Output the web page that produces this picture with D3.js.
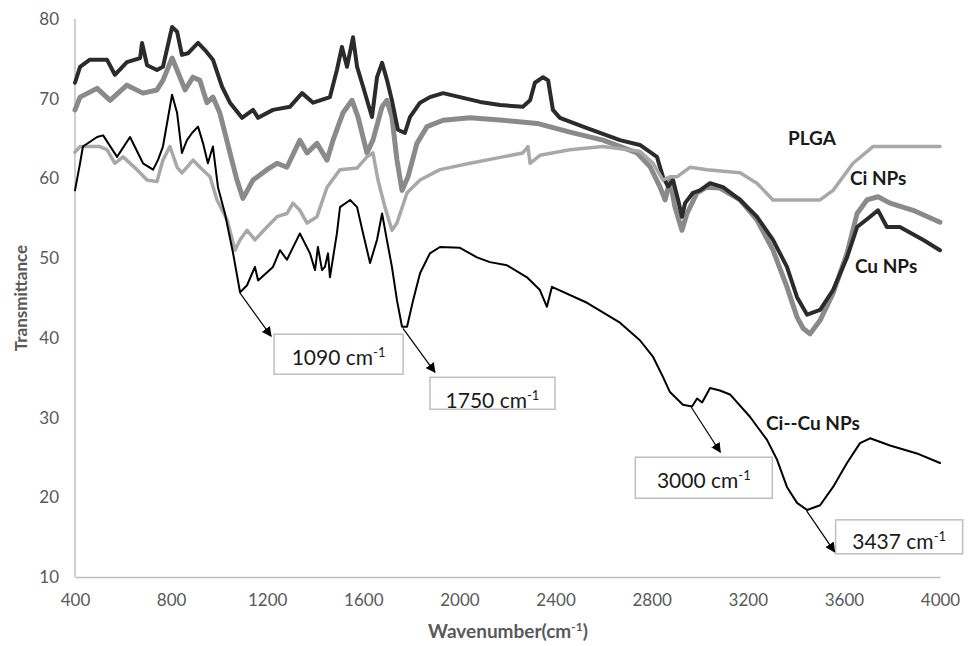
<!DOCTYPE html>
<html>
<head>
<meta charset="utf-8">
<script src="https://cdn.jsdelivr.net/npm/d3@7"></script>
<style>
  body { margin: 0; background: #fff; }
  svg { display: block; }
</style>
</head>
<body>
<svg id="chart" width="971" height="646"></svg>
<script>
// FTIR spectra as [wavenumber, transmittance]
const cuNps = [[400,72],[421,74],[462,74.9],[533,74.9],[566,73],[616,74.6],[671,75.1],[679,77],[700,74.2],[741,73.6],[766,74],[804,79],[825,78.4],[845,75.5],[870,75.7],[912,77],[941,76.1],[974,74.9],[1012,71.5],[1045,69.5],[1095,67.6],[1141,68.6],[1162,67.6],[1224,68.6],[1295,69],[1345,70.7],[1391,69.5],[1420,69.8],[1461,70.2],[1490,73.6],[1511,76.5],[1532,74],[1557,77.7],[1574,74],[1599,71.5],[1636,67.7],[1657,72.7],[1678,74.5],[1698,72.4],[1719,69.8],[1744,66.1],[1773,65.7],[1794,67.7],[1836,69.5],[1877,70.2],[1932,70.7],[2002,70.2],[2086,69.6],[2169,69.2],[2264,69],[2294,69.8],[2314,72],[2348,72.7],[2369,72.3],[2389,68.6],[2418,67.6],[2531,66.3],[2668,64.8],[2751,64.2],[2822,62.7],[2847,60.2],[2868,59],[2889,59.8],[2910,57.3],[2926,55.2],[2939,56.9],[2972,58.2],[3001,58.5],[3043,59.4],[3097,58.9],[3168,57.3],[3238,55.2],[3305,52.3],[3363,48.9],[3405,45.1],[3447,42.9],[3501,43.5],[3555,46],[3613,50.1],[3655,53.9],[3709,55.2],[3742,56],[3779,53.9],[3833,53.9],[3929,52.3],[4000,51]];

const ciNps = [[400,68.6],[421,70.2],[492,71.3],[546,69.8],[616,71.7],[683,70.7],[741,71.1],[766,72.3],[804,75.1],[837,72.7],[858,71.1],[891,72.7],[920,72.3],[949,69.5],[974,70.2],[1003,68.2],[1045,63.2],[1074,59.8],[1099,57.5],[1141,59.8],[1199,61.1],[1241,61.9],[1282,61.4],[1336,64.8],[1366,63.2],[1407,64.4],[1449,62.3],[1474,64.8],[1515,68.2],[1553,69.8],[1578,67.7],[1615,63.2],[1640,64.8],[1678,69],[1698,69.8],[1719,67.7],[1740,62.3],[1761,58.5],[1786,60.2],[1823,64.4],[1865,66.5],[1932,67.3],[2044,67.6],[2181,67.3],[2323,66.9],[2460,65.8],[2597,64.8],[2739,63.2],[2793,61.5],[2835,58.9],[2856,57.3],[2876,59.8],[2897,56.4],[2926,53.5],[2947,55.6],[2989,58.2],[3030,58.9],[3084,58.8],[3168,57.3],[3238,54.8],[3305,51],[3363,46.4],[3405,42.6],[3430,41.2],[3459,40.5],[3501,42.2],[3555,45.6],[3613,50.6],[3655,55.6],[3696,57.3],[3742,57.7],[3792,56.9],[3888,56],[4000,54.5]];

const plga = [[400,63.3],[421,64],[504,64],[533,63.6],[566,61.9],[600,62.7],[658,61.1],[700,59.8],[741,59.6],[766,62.3],[795,64],[825,61.4],[845,60.7],[866,61.4],[891,62.3],[920,61.4],[962,60.2],[991,57.3],[1033,54.8],[1066,51],[1087,52.3],[1116,53.5],[1149,52.3],[1199,53.9],[1241,55.2],[1282,55.6],[1307,56.9],[1336,56],[1366,54.4],[1407,55.2],[1449,58.9],[1503,61.1],[1574,61.3],[1615,62.7],[1640,63.2],[1661,59.8],[1690,56.4],[1719,53.5],[1740,54.4],[1782,58.2],[1836,59.8],[1919,61.1],[2044,61.9],[2181,62.7],[2264,63.2],[2285,64],[2294,61.9],[2335,62.9],[2460,63.6],[2597,64],[2751,63.4],[2806,61.9],[2847,59.8],[2876,60.2],[2905,60.2],[2960,61.4],[3030,61.1],[3168,60.7],[3238,59.4],[3305,57.3],[3447,57.3],[3501,57.3],[3555,58.5],[3638,61.9],[3721,64],[4000,64]];

const ciCuNps = [[400,58.5],[421,61.9],[433,64],[492,65.2],[517,65.4],[575,62.7],[629,65.2],[683,61.9],[725,61.1],[745,62.3],[766,64],[804,70.5],[825,68.2],[845,63.2],[866,64.8],[887,65.7],[912,66.5],[933,64.4],[953,61.9],[974,64],[995,58.9],[1024,55.6],[1058,50.6],[1087,45.7],[1116,46.6],[1149,48.9],[1162,47.2],[1224,48.9],[1253,51],[1282,49.8],[1336,53.1],[1378,50.6],[1399,48.5],[1411,51.4],[1428,48.5],[1440,48.9],[1453,50.6],[1461,47.6],[1490,53.1],[1503,56.4],[1545,57.3],[1574,56.4],[1599,53.1],[1628,49.4],[1657,52.3],[1678,55.6],[1698,52.3],[1719,48.9],[1740,44.7],[1761,41.4],[1782,41.4],[1807,44.7],[1836,48.1],[1877,50.6],[1919,51.4],[2002,51.3],[2073,50.1],[2127,49.5],[2198,49.1],[2281,47.6],[2335,46],[2364,43.9],[2385,46.4],[2531,44.4],[2668,41.9],[2751,39.7],[2806,37.6],[2847,35.1],[2876,33.2],[2930,31.6],[2968,31.4],[2989,32.4],[3010,31.9],[3043,33.7],[3084,33.4],[3126,32.9],[3209,30.1],[3280,27.2],[3322,24.7],[3363,21.3],[3405,19.3],[3447,18.4],[3501,19],[3555,21.3],[3613,24.3],[3667,26.8],[3709,27.4],[3792,26.5],[3904,25.5],[4000,24.3]];

const xTicks = [400, 800, 1200, 1600, 2000, 2400, 2800, 3200, 3600, 4000];
const yTicks = [10, 20, 30, 40, 50, 60, 70, 80];

// marked bands: label, and where the arrow leaves the curve
const bandLabels = [1090, 1750, 3000, 3437];
const dipWn = [1087, 1765, 2965, 3445];
const dipT = [45.6, 41.2, 31.3, 18.3];

const svg = d3.select("#chart");
const margin = { top: 19, right: 31, bottom: 69, left: 75 };
const width = 971, height = 646;

const x = d3.scaleLinear().domain([400, 4000]).range([margin.left, width - margin.right]);
const y = d3.scaleLinear().domain([10, 80]).range([height - margin.bottom, margin.top]);

const fontFam = "Lato, 'Open Sans', sans-serif";
const axisGrey = "#595959";

// axes
const xAxis = svg.append("g")
    .attr("transform", `translate(0,${y(10)})`)
    .call(d3.axisBottom(x).tickValues(xTicks).tickSize(0).tickPadding(17).tickFormat(d3.format("d")));
const yAxis = svg.append("g")
    .attr("transform", `translate(${x(400)},0)`)
    .call(d3.axisLeft(y).tickValues(yTicks).tickSize(0).tickPadding(16));
[xAxis, yAxis].forEach(g => {
    g.select(".domain").attr("stroke", "#bfbfbf").attr("stroke-width", 1.5);
    g.selectAll("text").attr("fill", axisGrey).attr("font-size", 17).attr("font-family", fontFam);
});
yAxis.select(".domain").attr("d", `M0,${y(80)}V${y(10)}`);

svg.append("text")
    .attr("transform", `translate(21,${(y(80) + y(10)) / 2}) rotate(-90)`)
    .attr("text-anchor", "middle")
    .attr("dy", "0.35em")
    .attr("font-family", fontFam)
    .attr("font-size", 17)
    .attr("font-weight", "bold")
    .attr("fill", axisGrey)
    .text("Transmittance");

const xTitle = svg.append("text")
    .attr("x", 508)
    .attr("y", 638)
    .attr("text-anchor", "middle")
    .attr("font-family", fontFam)
    .attr("font-size", 19)
    .attr("font-weight", "bold")
    .attr("fill", axisGrey);
xTitle.append("tspan").text("Wavenumber(cm");
xTitle.append("tspan").attr("font-size", 12).attr("dy", -7).text("-1");
xTitle.append("tspan").attr("dy", 7).text(")");

// spectra
const line = d3.line().x(d => x(d[0])).y(d => y(d[1]));
const series = [
    { data: ciNps, color: "#8a8a8a", width: 5 },
    { data: cuNps, color: "#2b2b2b", width: 4 },
    { data: plga, color: "#a8a8a8", width: 3.5 },
    { data: ciCuNps, color: "#000000", width: 2 }
];
svg.append("g")
    .attr("fill", "none")
    .attr("stroke-linejoin", "round")
    .attr("stroke-linecap", "round")
    .selectAll("path")
    .data(series)
    .join("path")
    .attr("stroke", d => d.color)
    .attr("stroke-width", d => d.width)
    .attr("d", d => line(d.data));

// series labels
const seriesLabels = [
    { text: "PLGA", wn: 3367, t: 64.2 },
    { text: "Ci NPs", wn: 3625, t: 59.2 },
    { text: "Cu NPs", wn: 3646, t: 48.1 },
    { text: "Ci--Cu NPs", wn: 3276, t: 28.4 }
];
svg.append("g")
    .attr("font-family", fontFam)
    .attr("font-size", 19)
    .attr("font-weight", "bold")
    .attr("fill", "#1a1a1a")
    .selectAll("text")
    .data(seriesLabels)
    .join("text")
    .attr("x", d => x(d.wn))
    .attr("y", d => y(d.t))
    .text(d => d.text);

// band annotations: arrow from the dip to a boxed label
svg.append("defs").append("marker")
    .attr("id", "head")
    .attr("viewBox", "0 0 10 10")
    .attr("refX", 9).attr("refY", 5)
    .attr("markerWidth", 10).attr("markerHeight", 10)
    .attr("markerUnits", "userSpaceOnUse")
    .attr("orient", "auto")
    .append("path").attr("d", "M0,0L10,5L0,10z").attr("fill", "#000");

const boxes = [
    { dx: 31, dy: 43, bx: 3, by: -2, w: 129, h: 40, ty: 23.5 },
    { dx: 32, dy: 44, bx: -5, by: 5, w: 125, h: 32, ty: 23 },
    { dx: 29, dy: 45, bx: -85, by: 5, w: 137, h: 41, ty: 23 },
    { dx: 28, dy: 41, bx: 1, by: -32, w: 127, h: 34, ty: 22 }
];
const ann = svg.append("g");
bandLabels.forEach((label, i) => {
    const sx = x(dipWn[i]), sy = y(dipT[i]);
    const b = boxes[i];
    const tx = sx + b.dx, ty = sy + b.dy;
    const bx = tx + b.bx, by = ty + b.by;
    ann.append("rect")
        .attr("x", bx).attr("y", by)
        .attr("width", b.w).attr("height", b.h)
        .attr("fill", "#fff")
        .attr("stroke", "#bfbfbf")
        .attr("stroke-width", 1.5);
    ann.append("line")
        .attr("x1", sx).attr("y1", sy)
        .attr("x2", tx).attr("y2", ty)
        .attr("stroke", "#000")
        .attr("stroke-width", 1.2)
        .attr("marker-end", "url(#head)");
    const t = ann.append("text")
        .attr("x", bx + b.w / 2)
        .attr("y", by + b.ty)
        .attr("dy", "0.35em")
        .attr("text-anchor", "middle")
        .attr("font-family", fontFam)
        .attr("font-size", 21)
        .attr("fill", "#1a1a1a");
    t.append("tspan").text(`${label} cm`);
    t.append("tspan").attr("font-size", 13).attr("dy", -8).text("-1");
});
</script>
</body>
</html>
